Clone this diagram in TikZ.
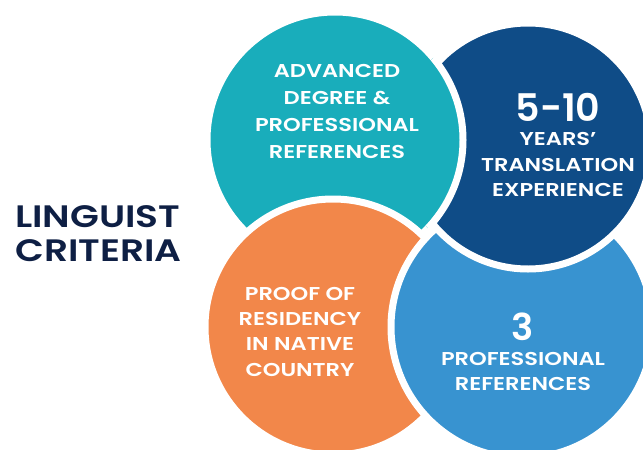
\documentclass[tikz,border=0pt]{standalone}
\usepackage{fontspec}
\setmainfont{Poppins}
\newfontfamily\widefont{Poppins SemiBold}[FakeStretch=1.21]
\newfontfamily\numfont{Poppins SemiBold}
\definecolor{tealc}{HTML}{19ADBB}
\definecolor{navyc}{HTML}{0F4C87}
\definecolor{skyc}{HTML}{3893D0}
\definecolor{orangec}{HTML}{F2874A}
\definecolor{titlec}{HTML}{0E1F44}
\begin{document}
\begin{tikzpicture}[x=1pt,y=-1pt,
    blob/.style={circle,draw=white,line width=7pt,minimum size=#1,inner sep=0pt},
    ctext/.style={text=white,align=center,inner sep=0pt,anchor=north,
        font={\widefont\fontsize{18.6}{#1}\selectfont}},
    bignum/.style={text=white,inner sep=0pt,anchor=north,
        font={\numfont\fontsize{#1}{#1}\selectfont}}]
    \useasboundingbox (0,0) rectangle (643,450);
    \clip (0,0) rectangle (643,450);
    \node at (335,140) [blob=256pt,fill=tealc] (adv) {};
    \node at (333,327) [blob=256pt,fill=orangec] (proof) {};
    \node at (522,327) [blob=262pt,fill=skyc] (refs) {};
    \node at (528,146) [blob=246pt,fill=navyc] (years) {};
    \begin{scope}
        \clip (years.center) circle (129.5pt);
        \node at (adv.center) [blob=256pt,fill=tealc] (advtop) {};
    \end{scope}
    \node at (337,64) [ctext=27pt] (advtext) {ADVANCED\\DEGREE \&\\PROFESSIONAL\\REFERENCES};
    \node at (558,93) [bignum=38pt] (yearsnum) {5-10};
    \node at (558,132.5) [ctext=25.5pt] (yearstext) {YEARS’\\TRANSLATION\\EXPERIENCE};
    \node at (300,287) [ctext=25.3pt] (prooftext) {PROOF OF\\RESIDENCY\\IN NATIVE\\COUNTRY};
    \node at (523,313) [bignum=37pt] (refsnum) {3};
    \node at (523,352) [ctext=25pt] (refstext) {PROFESSIONAL\\REFERENCES};
    \node at (15,205) [anchor=north west,align=left,inner sep=0pt,text=titlec,
        font={\widefont\fontsize{31}{34}\selectfont}] (title) {LINGUIST\\CRITERIA};
\end{tikzpicture}
\end{document}
